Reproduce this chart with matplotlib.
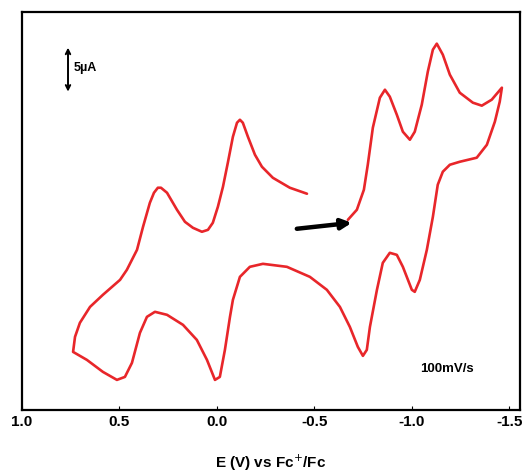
import matplotlib.pyplot as plt

plt.rcParams['font.family'] = ['Liberation Sans', 'DejaVu Sans']

# potential (V vs Fc+/Fc) and current (uA), one continuous scan
potential = [-0.462, -0.374, -0.287, -0.231, -0.195, -0.159, -0.133, -0.118, -0.103, -0.082,
             -0.056, -0.031, -0.005, 0.021, 0.046, 0.077, 0.123, 0.164, 0.205, 0.256,
             0.287, 0.303, 0.323, 0.344, 0.379, 0.410, 0.462, 0.497, 0.585, 0.651,
             0.703, 0.728, 0.738, 0.667, 0.585, 0.513, 0.472, 0.436, 0.395, 0.359,
             0.318, 0.256, 0.174, 0.103, 0.051, 0.010, -0.015, -0.041, -0.067, -0.082,
             -0.118, -0.169, -0.236, -0.359, -0.477, -0.564, -0.631, -0.682, -0.723, -0.749,
             -0.769, -0.785, -0.821, -0.851, -0.887, -0.923, -0.954, -1.000, -1.015, -1.041,
             -1.077, -1.108, -1.133, -1.159, -1.195, -1.246, -1.333, -1.385, -1.426, -1.451,
             -1.462, -1.410, -1.359, -1.313, -1.246, -1.195, -1.159, -1.128, -1.108, -1.082,
             -1.051, -1.015, -0.990, -0.954, -0.923, -0.887, -0.862, -0.836, -0.800, -0.774,
             -0.754, -0.718, -0.672]
current = [12.05, 12.73, 13.86, 15.11, 16.48, 18.52, 20.11, 20.45, 20.11, 18.52,
           15.57, 12.84, 10.57, 8.75, 7.95, 7.73, 8.18, 8.86, 10.23, 12.16,
           12.73, 12.73, 12.16, 11.02, 8.30, 5.68, 3.41, 2.27, 0.57, -0.80,
           -2.61, -4.20, -5.91, -6.82, -8.18, -9.09, -8.75, -7.16, -3.75, -1.93,
           -1.36, -1.70, -2.84, -4.55, -6.82, -9.09, -8.75, -5.68, -1.93, 0.00,
           2.61, 3.75, 4.09, 3.75, 2.61, 1.14, -0.80, -3.07, -5.34, -6.36,
           -5.68, -3.07, 1.14, 4.20, 5.34, 5.11, 3.75, 1.14, 0.91, 2.27,
           5.68, 9.43, 13.07, 14.55, 15.34, 15.68, 16.14, 17.61, 20.23, 22.50,
           24.09, 22.73, 22.05, 22.39, 23.52, 25.57, 27.84, 29.09, 28.41, 25.91,
           22.16, 19.09, 18.18, 19.09, 21.02, 23.07, 23.86, 22.95, 19.55, 15.34,
           12.50, 10.23, 9.09]

xticks = [1.0, 0.5, 0.0, -0.5, -1.0, -1.5]
scale_ua = 5

fig = plt.figure(figsize=(5.29, 4.75), dpi=100)
ax = fig.add_axes([0.0416, 0.137, 0.9414, 0.838])

ax.plot(potential, current, color='#e8262a', lw=1.9,
        solid_joinstyle='round', solid_capstyle='round')

ax.set_xlim(1.0, -1.555)
ax.set_ylim(-12.5, 32.7)
ax.set_xticks(xticks)
ax.set_xticklabels(['%.1f' % t for t in xticks], fontsize=11, fontweight='bold')
ax.set_yticks([])
ax.tick_params(axis='x', direction='in', length=3, pad=4)
for s in ax.spines.values():
    s.set_linewidth(1.6)
ax.set_xlabel('E (V) vs Fc$^{+}$/Fc', fontsize=11, fontweight='bold', labelpad=17)

# scale bar
ax.annotate('', xy=(0.764, 28.64), xytext=(0.764, 28.64 - scale_ua),
            arrowprops=dict(arrowstyle='<->', lw=1.4, color='black',
                            mutation_scale=8, shrinkA=0, shrinkB=0))
ax.text(0.735, 26.3, '5\u00b5A', fontsize=9, fontweight='bold', va='center', ha='left')

ax.text(-1.04, -7.9, '100mV/s', fontsize=9.5, fontweight='bold', va='center', ha='left')

# scan direction arrow
ax.annotate('', xy=(-0.692, 8.75), xytext=(-0.41, 8.07),
            arrowprops=dict(arrowstyle='-|>', lw=3.2, color='black',
                            mutation_scale=15, shrinkA=0, shrinkB=0))

fig.savefig('out.png', dpi=100)
